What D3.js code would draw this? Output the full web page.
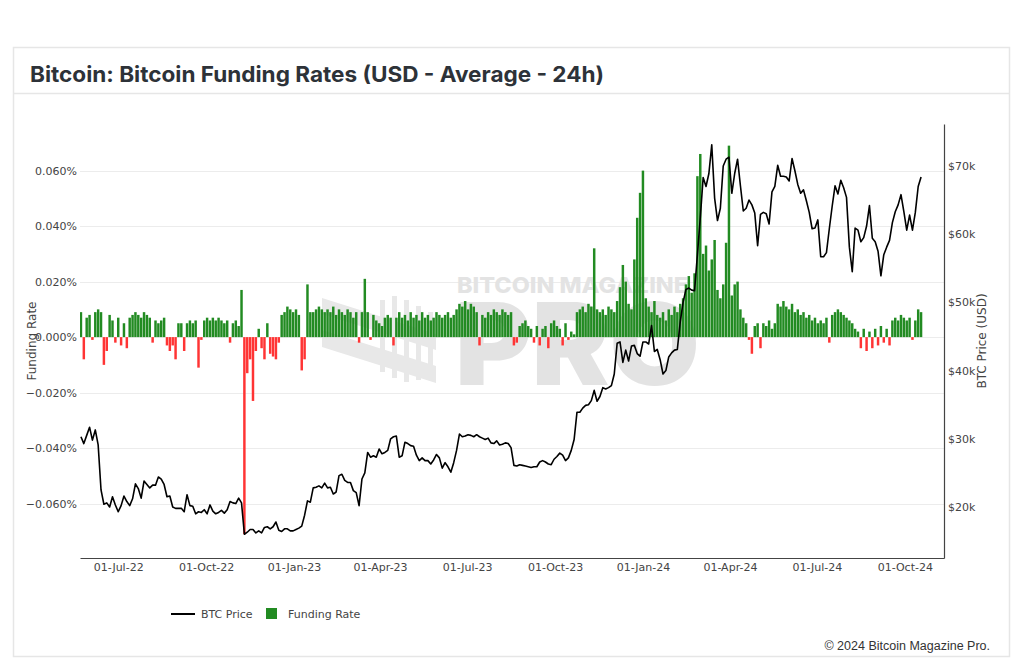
<!DOCTYPE html>
<html>
<head>
<meta charset="utf-8">
<script src="https://cdn.jsdelivr.net/npm/d3@7"></script>
<style>
  html, body { margin: 0; padding: 0; background: #fff; }
  svg { display: block; }
  .tick text { font-family: "DejaVu Sans", Verdana, sans-serif; font-size: 11px; fill: #444; }
</style>
</head>
<body>
<svg id="chart" width="1024" height="662"></svg>
<script>
// ---------------- DATA ----------------
const titleText = "Bitcoin: Bitcoin Funding Rates (USD - Average - 24h)";
const seriesNames = ["BTC Price", "Funding Rate"];
const startDate = "2022-05-23";   // first observation
const stepDays = 3;               // one observation every 3 days
const xTickDates = ["2022-07-01","2022-10-01","2023-01-01","2023-04-01","2023-07-01","2023-10-01","2024-01-01","2024-04-01","2024-07-01","2024-10-01"];
const leftTicks = [-0.06, -0.04, -0.02, 0, 0.02, 0.04, 0.06];   // funding rate, %
const rightTicks = [20, 30, 40, 50, 60, 70];                       // BTC price, $k

// Funding rate, in units of 0.001 %
const fundingRate = [
  9,-8,7,8,-1,9,10,9,-10,-5,
  8,6,-2,7,-3,5,-4,7,8,9,
  8,7,9,8,7,-2,6,5,6,7,
  -3,-5,-3,-8,5,5,-5,5,6,5,
  6,-11,-1,6,7,6,7,6,7,6,
  5,6,-2,5,6,4,17,-71,-13,-8,
  -23,-5,3,-4,-8,5,-6,-7,-8,-2,
  8,9,11,10,9,10,8,-12,-8,19,
  9,9,10,11,10,9,10,9,11,8,
  10,9,8,10,9,7,9,-2,9,21,
  9,-1,8,6,5,4,7,8,7,-3,
  7,9,7,8,6,9,7,8,6,9,
  7,8,6,7,9,8,7,8,9,7,
  8,10,12,11,13,10,12,11,9,-3,
  8,7,9,8,10,9,8,10,9,8,
  9,-3,-2,4,5,6,4,3,-2,4,
  -3,3,4,-4,5,6,4,3,-3,5,
  -1,2,1,9,10,11,9,12,11,32,
  10,9,10,8,11,10,9,13,18,26,
  20,12,10,28,43,52,60,14,11,9,
  13,8,7,9,6,10,8,11,9,12,
  14,19,22,16,23,58,66,30,33,24,
  28,35,17,14,19,34,69,15,19,20,
  10,7,5,-1,-6,4,5,-4,5,4,
  6,3,5,12,11,13,11,10,12,9,
  10,8,9,7,8,6,7,5,6,5,
  7,-2,8,9,10,9,8,7,6,5,
  3,2,-4,3,-5,2,-4,3,-3,4,
  -2,3,-3,6,7,6,8,7,6,7,
  -1,6,10,9
];

// BTC price, in $k
const btcPrice = [
  30.3,29.3,30.5,31.7,29.8,31.3,29.1,22.5,20.4,20.6,
  20.0,21.5,20.3,19.3,20.2,21.6,20.8,20.2,21.2,23.4,
  22.7,21.3,23.8,23.3,22.8,23.2,23.2,24.4,24.1,23.3,
  21.5,21.6,20.0,19.8,19.8,19.8,19.3,21.8,20.2,20.1,
  19.0,19.3,19.2,19.6,19.0,20.3,19.4,19.0,19.2,19.5,
  19.1,19.6,20.8,20.6,20.5,21.3,20.6,16.0,16.3,16.7,
  16.7,16.2,16.5,16.2,17.0,17.1,16.8,17.1,17.8,16.6,
  16.4,16.8,16.8,16.5,16.5,16.7,16.9,17.2,18.8,20.9,
  20.7,22.8,22.9,23.1,22.8,23.5,22.8,22.9,21.9,22.2,
  24.6,24.8,23.9,23.6,23.6,22.4,22.1,20.2,24.1,25.0,
  28.0,27.3,27.5,27.3,28.5,27.8,28.0,28.3,30.0,30.3,
  30.4,27.3,27.5,29.5,29.3,29.0,28.9,27.6,26.8,27.2,
  26.8,26.8,26.3,26.9,27.7,27.2,25.7,26.5,25.9,25.1,
  26.5,28.3,30.7,30.3,30.4,30.6,30.5,30.3,30.6,30.3,
  30.1,29.9,30.1,29.4,29.3,29.7,29.1,29.2,29.4,29.3,
  28.7,26.1,26.0,26.2,26.1,26.0,25.9,25.8,25.9,25.9,
  26.6,26.8,26.6,26.3,26.2,27.0,27.4,27.9,27.6,26.8,
  27.2,28.3,29.9,33.9,33.9,34.5,34.9,35.0,35.6,37.1,
  35.5,36.2,37.5,37.3,37.5,37.8,39.5,44.0,44.2,41.2,
  43.0,41.4,43.6,43.7,42.5,42.1,44.2,44.2,43.9,46.6,
  42.8,43.1,41.6,39.5,40.0,42.0,42.6,43.0,43.1,47.1,
  50.0,51.9,52.1,51.8,51.7,57.0,62.4,68.3,67.0,68.9,
  73.1,65.3,62.0,63.8,70.0,71.0,71.3,66.0,68.9,71.0,
  67.1,63.4,63.8,65.0,64.3,63.1,58.3,62.9,63.2,63.0,
  61.5,66.2,67.0,70.1,68.5,68.5,68.4,67.8,71.1,69.3,
  67.3,66.0,66.5,64.9,63.2,60.8,60.9,62.1,56.7,56.7,
  57.3,60.8,64.1,67.1,65.9,67.9,66.8,65.4,58.1,54.5,
  60.9,60.6,58.9,59.5,61.2,64.2,59.4,58.9,57.5,53.9,
  57.0,58.1,59.1,61.7,63.3,64.3,65.8,63.3,60.6,62.8,
  60.6,63.2,67.0,68.4
];

// ---------------- CHART ----------------
const svg = d3.select("#chart");
const plot = { left: 80, right: 944, top: 124, bottom: 558 };

const parse = d3.utcParse("%Y-%m-%d");
const t0 = parse(startDate);
const dates = fundingRate.map((_, i) => d3.utcDay.offset(t0, i * stepDays));

const x = d3.scaleUtc()
  .domain([parse("2022-05-22"), parse("2024-11-11")])
  .range([plot.left, plot.right]);
const yL = d3.scaleLinear().domain([-0.0796, 0.0768]).range([plot.bottom, plot.top]);
const yR = d3.scaleLinear().domain([12.52, 76.16]).range([plot.bottom, plot.top]);

// card
svg.append("rect").attr("x", 13.5).attr("y", 47.5).attr("width", 996).attr("height", 609)
  .attr("fill", "#fff").attr("stroke", "#e6e6e6").attr("stroke-width", 1.5);
svg.append("line").attr("x1", 13.5).attr("x2", 1009.5).attr("y1", 93.5).attr("y2", 93.5)
  .attr("stroke", "#e6e6e6").attr("stroke-width", 1.5);
svg.append("text").attr("x", 30).attr("y", 82)
  .attr("font-family", "Inter, Roboto, sans-serif").attr("font-weight", 700)
  .attr("font-size", 21.5).attr("fill", "#2d3238")
  .attr("textLength", 574).attr("lengthAdjust", "spacingAndGlyphs").text(titleText);

// gridlines
svg.append("g").selectAll("line").data(leftTicks).join("line")
  .attr("x1", plot.left).attr("x2", plot.right)
  .attr("y1", d => Math.round(yL(d)) + 0.5).attr("y2", d => Math.round(yL(d)) + 0.5)
  .attr("stroke", "#ececec").attr("stroke-width", 1);

// watermark
const wm = svg.append("g").attr("fill", "#e3e3e3");
wm.append("text").attr("x", 457).attr("y", 293)
  .attr("font-family", "Inter, sans-serif").attr("font-weight", 800).attr("font-size", 22)
  .attr("textLength", 231).attr("lengthAdjust", "spacingAndGlyphs").text("BITCOIN MAGAZINE");
wm.append("text").attr("x", 455).attr("y", 385)
  .attr("font-family", "Inter, sans-serif").attr("font-weight", 900).attr("font-size", 114)
  .attr("textLength", 245).attr("lengthAdjust", "spacingAndGlyphs").text("PRO");
const logo = svg.append("g").attr("fill", "#e8e8e8");
logo.append("polygon").attr("points", "322,298 436,334 436,350 322,314");
logo.append("polygon").attr("points", "322,330 436,366 436,383 322,347");
[[380,300,372],[392,296,378],[404,300,382],[416,306,380],[428,312,376]].forEach(b => {
  logo.append("rect").attr("x", b[0]).attr("y", b[1]).attr("width", 5).attr("height", b[2] - b[1]);
});

// clip
svg.append("clipPath").attr("id", "clip").append("rect")
  .attr("x", plot.left).attr("y", plot.top)
  .attr("width", plot.right - plot.left).attr("height", plot.bottom - plot.top);

// bars
const bw = (x(d3.utcDay.offset(t0, stepDays)) - x(t0)) * 0.86;
svg.append("g").attr("clip-path", "url(#clip)")
  .selectAll("rect").data(fundingRate).join("rect")
  .attr("x", (d, i) => x(dates[i]) - bw / 2)
  .attr("width", bw)
  .attr("y", d => d >= 0 ? yL(d / 1000) : yL(0))
  .attr("height", d => Math.abs(yL(d / 1000) - yL(0)))
  .attr("fill", d => d >= 0 ? "#228b22" : "#ff3434");

// price line
const line = d3.line().x((d, i) => x(dates[i])).y(d => yR(d));
svg.append("path").datum(btcPrice).attr("clip-path", "url(#clip)")
  .attr("d", line).attr("fill", "none").attr("stroke", "#000")
  .attr("stroke-width", 1.6).attr("stroke-linejoin", "round");

// axes
const fmtPct = d => (d < 0 ? "\u2212" : "") + Math.abs(d).toFixed(3) + "%";
const gx = svg.append("g").attr("transform", `translate(0,${plot.bottom})`)
  .call(d3.axisBottom(x).tickValues(xTickDates.map(parse))
    .tickFormat(d3.utcFormat("%d-%b-%y")).tickSize(0).tickSizeOuter(0).tickPadding(5));
gx.select(".domain").attr("stroke", "#444").attr("stroke-width", 1.2);

const gl = svg.append("g").attr("transform", `translate(${plot.left},0)`)
  .call(d3.axisLeft(yL).tickValues(leftTicks).tickFormat(fmtPct).tickSize(0).tickPadding(3));
gl.select(".domain").remove();

const gr = svg.append("g").attr("transform", `translate(${plot.right},0)`)
  .call(d3.axisRight(yR).tickValues(rightTicks).tickFormat(d => "$" + d + "k").tickSize(0).tickSizeOuter(0).tickPadding(4));
gr.select(".domain").attr("stroke", "#444").attr("stroke-width", 1.2);

// axis titles
svg.append("text").attr("transform", `translate(36,${(plot.top + plot.bottom) / 2}) rotate(-90)`)
  .attr("text-anchor", "middle").attr("font-family", "DejaVu Sans, sans-serif")
  .attr("font-size", 12).attr("fill", "#444").text("Funding Rate");
svg.append("text").attr("transform", `translate(986,${(plot.top + plot.bottom) / 2}) rotate(-90)`)
  .attr("text-anchor", "middle").attr("font-family", "DejaVu Sans, sans-serif")
  .attr("font-size", 12).attr("fill", "#444").text("BTC Price (USD)");

// legend
const lg = svg.append("g").attr("font-family", "DejaVu Sans, sans-serif").attr("font-size", 11).attr("fill", "#444");
lg.append("line").attr("x1", 171).attr("x2", 195).attr("y1", 614).attr("y2", 614)
  .attr("stroke", "#000").attr("stroke-width", 2);
lg.append("text").attr("x", 201).attr("y", 618).text(seriesNames[0]);
lg.append("rect").attr("x", 266).attr("y", 608).attr("width", 11).attr("height", 11).attr("fill", "#228b22");
lg.append("text").attr("x", 288).attr("y", 618).text(seriesNames[1]);

// footer
svg.append("text").attr("x", 990).attr("y", 650).attr("text-anchor", "end")
  .attr("font-family", "Liberation Sans, Arial, sans-serif").attr("font-size", 12.5)
  .attr("fill", "#333").text("\u00a9 2024 Bitcoin Magazine Pro.");
</script>
</body>
</html>
